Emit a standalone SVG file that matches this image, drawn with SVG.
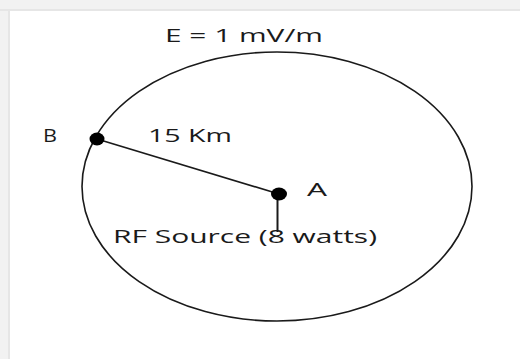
<svg xmlns="http://www.w3.org/2000/svg" width="520" height="359" viewBox="0 0 520 359">
<style>
.t{font-family:"Open Sans","Noto Sans","DejaVu Sans",sans-serif;font-size:19px;fill:#1a1a1a;}
.ln{stroke:#1a1a1a;fill:none;}
.dot{fill:#000;}
</style>
<rect x="0" y="0" width="520" height="359" fill="#f2f2f2"/>
<rect x="0" y="9" width="520" height="2" fill="#e6e6e6"/>
<rect x="8" y="9" width="2" height="350" fill="#e6e6e6"/>
<rect x="10" y="11" width="510" height="348" fill="#ffffff"/>
<g id="field-circle">
<ellipse cx="277" cy="186.5" rx="195" ry="134.5" class="ln" stroke-width="1.6"/>
<text class="t" x="165" y="42" textLength="158" lengthAdjust="spacingAndGlyphs">E = 1 mV/m</text>
</g>
<g id="connectors">
<line x1="97" y1="139" x2="279" y2="194" class="ln" stroke-width="1.6"/>
<line x1="277.5" y1="194" x2="277.5" y2="232" class="ln" stroke-width="2"/>
</g>
<g id="node-B">
<ellipse cx="97" cy="139" rx="7.5" ry="6.5" class="dot"/>
<text class="t" x="43" y="142" textLength="14" lengthAdjust="spacingAndGlyphs">B</text>
</g>
<g id="label-distance">
<text class="t" x="148" y="142" textLength="84" lengthAdjust="spacingAndGlyphs">15 Km</text>
</g>
<g id="node-A">
<ellipse cx="279" cy="194" rx="8" ry="6.5" class="dot"/>
<text class="t" x="307" y="196" textLength="20" lengthAdjust="spacingAndGlyphs">A</text>
</g>
<g id="label-source">
<text class="t" x="113" y="243" textLength="264" lengthAdjust="spacingAndGlyphs">RF Source (8 watts)</text>
</g>
</svg>
